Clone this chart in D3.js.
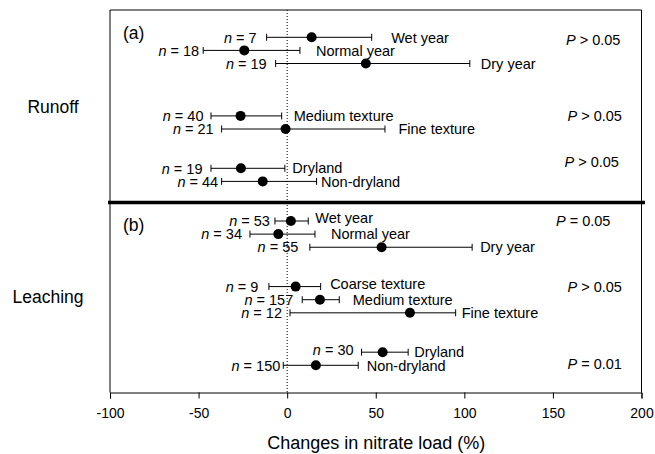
<!DOCTYPE html>
<html>
<head>
<meta charset="utf-8">
<script src="https://cdn.jsdelivr.net/npm/d3@7"></script>
<style>
  html, body { margin: 0; padding: 0; background: #fff; }
  svg { display: block; }
  text { font-family: "Liberation Sans", Arial, Helvetica, sans-serif; fill: #000; }
</style>
</head>
<body>
<svg id="chart" width="655" height="454"></svg>
<script>
// ---------------- DATA ----------------
const xTicks = [-100, -50, 0, 50, 100, 150, 200];
const xTickLabels = ["-100", "-50", "0", "50", "100", "150", "200"];
const xTitle = "Changes in nitrate load (%)";

// Panel (a) Runoff
const runoffCats = ["Wet year", "Normal year", "Dry year", "Medium texture", "Fine texture", "Dryland", "Non-dryland"];
const runoffN    = [7, 18, 19, 40, 21, 19, 44];
const runoffMean = [13.8, -24.2, 44.4, -26.3, -0.9, -26.1, -13.8];
const runoffLow  = [-11.6, -47.4, -6.5, -43.0, -37.0, -43.0, -37.0];
const runoffHigh = [47.7, 7.2, 103.1, -3.1, 55.2, -1.3, 16.6];
const runoffP    = ["P > 0.05", "P > 0.05", "P > 0.05"];

// Panel (b) Leaching
const leachCats = ["Wet year", "Normal year", "Dry year", "Coarse texture", "Medium texture", "Fine texture", "Dryland", "Non-dryland"];
const leachN    = [53, 34, 55, 9, 157, 12, 30, 150];
const leachMean = [2.1, -5.0, 53.3, 4.8, 18.5, 69.3, 53.9, 16.2];
const leachLow  = [-6.9, -21.0, 12.8, -10.3, 8.5, 1.6, 42.0, -2.2];
const leachHigh = [11.9, 15.7, 104.4, 18.9, 29.4, 95.1, 68.3, 40.1];
const leachP    = ["P = 0.05", "P > 0.05", "P = 0.01"];

// ---------------- LAYOUT ----------------
const slotOf = {"Wet year":0, "Normal year":1, "Dry year":2, "Coarse texture":5, "Medium texture":6,
                "Fine texture":7, "Dryland":10, "Non-dryland":11};
const panels = [
  { tag: "(a)", name: "Runoff", nameX: 53, nameY: 107, tagY: 33,
    yRange: [37.3, 181.4], cats: runoffCats, n: runoffN, mean: runoffMean, low: runoffLow, high: runoffHigh,
    p: runoffP, pSlot: [0.2, 6, 9.5], pX: [566, 567.5, 564.5],
    nGap: [10, 4, 9, 7.5, 8, 8.5, 3.5], labGap: [19.5, 16, 11, 12, 13.5, 7.5, 4.5], labDy: [0,0,0,0,0,-1,0], nDy: [0,0,0,0,0,0,0] },
  { tag: "(b)", name: "Leaching", nameX: 48, nameY: 297, tagY: 225,
    yRange: [221, 365.3], cats: leachCats, n: leachN, mean: leachMean, low: leachLow, high: leachHigh,
    p: leachP, pSlot: [0, 5, 10.85], pX: [556, 567.5, 567.5],
    nGap: [5, 8, 11.5, 10.5, 9, 8, 8, 3], labGap: [7, 16, 8, 9.5, 13.5, 6, 6, 8.5], labDy: [-3,0,0,-3,0,0,0,0], nDy: [0,0,0,0,0,0,-2.5,0] }
];

const margin = { left: 110, right: 641.5, top: 10, bottom: 392.5 };
const font = 14.5;

// ---------------- DRAW ----------------
const svg = d3.select("#chart");
const x = d3.scaleLinear().domain([-100, 200]).range([margin.left, margin.right]);

// frame
svg.append("line").attr("x1", margin.left).attr("x2", margin.left)
   .attr("y1", margin.top).attr("y2", margin.bottom).attr("stroke", "#000").attr("stroke-width", 1);
svg.append("line").attr("x1", margin.right).attr("x2", margin.right)
   .attr("y1", margin.top).attr("y2", margin.bottom).attr("stroke", "#000").attr("stroke-width", 1);
svg.append("line").attr("x1", margin.left).attr("x2", margin.right)
   .attr("y1", margin.top).attr("y2", margin.top).attr("stroke", "#000").attr("stroke-width", 1);

// zero dotted line
svg.append("line").attr("x1", x(0)).attr("x2", x(0))
   .attr("y1", margin.top).attr("y2", margin.bottom)
   .attr("stroke", "#000").attr("stroke-width", 1).attr("stroke-dasharray", "1,2");

// thick separator
svg.append("line").attr("x1", 108).attr("x2", 645)
   .attr("y1", 202.5).attr("y2", 202.5).attr("stroke", "#000").attr("stroke-width", 3.5);

// x axis
const axis = d3.axisBottom(x).tickValues(xTicks).tickSize(6).tickPadding(10)
  .tickFormat((d, i) => xTickLabels[i]);
const gAxis = svg.append("g").attr("transform", `translate(0,${margin.bottom})`).call(axis);
gAxis.select(".domain").attr("stroke", "#000").attr("stroke-width", 1);
gAxis.selectAll(".tick line").attr("stroke", "#000");
gAxis.selectAll(".tick text").attr("font-size", 14).attr("fill", "#000")
     .style("font-family", '"Liberation Sans", Arial, sans-serif');

svg.append("text").attr("x", (margin.left + margin.right) / 2 + 0.5).attr("y", 449)
   .attr("text-anchor", "middle").attr("font-size", 18).text(xTitle);

panels.forEach(p => {
  const y = d3.scaleLinear().domain([0, 11]).range(p.yRange);
  const g = svg.append("g");

  g.append("text").attr("x", p.nameX).attr("y", p.nameY).attr("dy", "0.36em")
    .attr("text-anchor", "middle").attr("font-size", 17.5).text(p.name);
  g.append("text").attr("x", 123).attr("y", p.tagY).attr("dy", "0.36em")
    .attr("font-size", 17.5).text(p.tag);

  const rows = p.cats.map((c, i) => ({ c, i, slot: slotOf[c], n: p.n[i], m: p.mean[i], lo: p.low[i], hi: p.high[i] }));

  const r = g.selectAll("g.row").data(rows).join("g").attr("class", "row");
  r.append("line").attr("x1", d => x(d.lo)).attr("x2", d => x(d.hi))
    .attr("y1", d => y(d.slot)).attr("y2", d => y(d.slot)).attr("stroke", "#000").attr("stroke-width", 1);
  r.append("line").attr("x1", d => x(d.lo)).attr("x2", d => x(d.lo))
    .attr("y1", d => y(d.slot) - 3.5).attr("y2", d => y(d.slot) + 3.5).attr("stroke", "#000").attr("stroke-width", 1);
  r.append("line").attr("x1", d => x(d.hi)).attr("x2", d => x(d.hi))
    .attr("y1", d => y(d.slot) - 3.5).attr("y2", d => y(d.slot) + 3.5).attr("stroke", "#000").attr("stroke-width", 1);
  r.append("circle").attr("cx", d => x(d.m)).attr("cy", d => y(d.slot)).attr("r", 5).attr("fill", "#000");

  // n labels
  const nt = r.append("text").attr("x", d => x(d.lo) - p.nGap[d.i]).attr("y", d => y(d.slot) + p.nDy[d.i])
    .attr("dy", "0.36em").attr("text-anchor", "end").attr("font-size", font);
  nt.append("tspan").attr("font-style", "italic").text("n");
  nt.append("tspan").text(d => " = " + d.n);

  // category labels
  r.append("text").attr("x", d => x(d.hi) + p.labGap[d.i]).attr("y", d => y(d.slot) + p.labDy[d.i])
    .attr("dy", "0.36em").attr("font-size", font).text(d => d.c);

  // P labels
  p.p.forEach((s, k) => {
    const t = g.append("text").attr("x", p.pX[k]).attr("y", y(p.pSlot[k])).attr("dy", "0.36em").attr("font-size", font);
    t.append("tspan").attr("font-style", "italic").text(s.slice(0, 1));
    t.append("tspan").text(s.slice(1));
  });
});
</script>
</body>
</html>
